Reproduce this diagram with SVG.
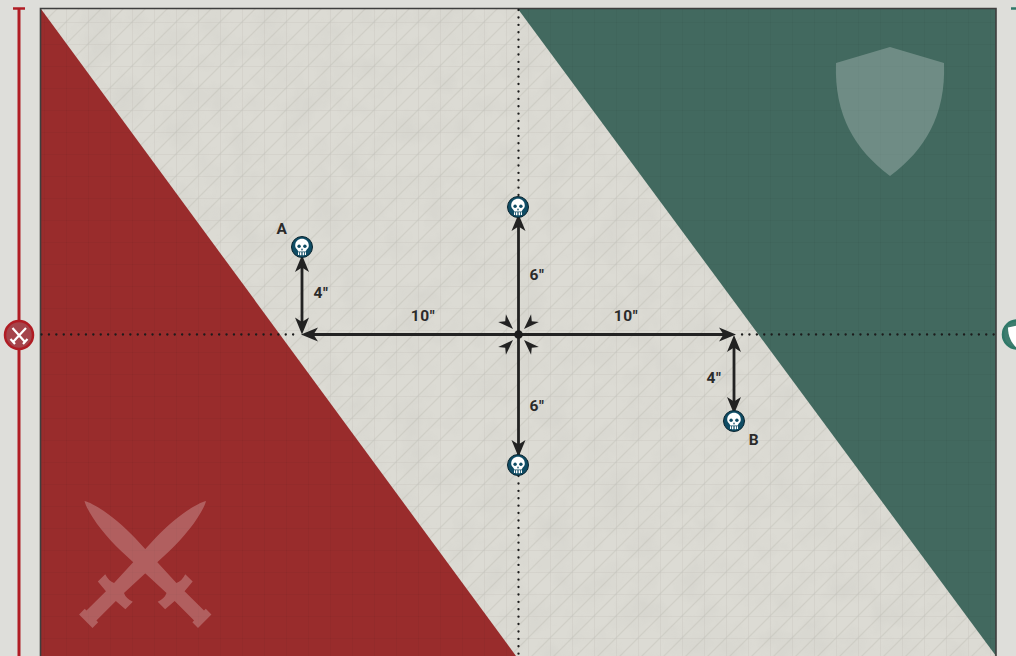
<svg xmlns="http://www.w3.org/2000/svg" xmlns:xlink="http://www.w3.org/1999/xlink" width="1016" height="656" viewBox="0 0 1016 656">
<style>
.lbl{font-family:"Roboto","Liberation Sans",sans-serif;font-weight:700;font-size:15.500px;letter-spacing:.6px;fill:#2b2b2b;text-anchor:middle}
.dim{fill:none;stroke:#222;stroke-width:2.800}
.dot{fill:none;stroke:#1c1c1c;stroke-width:2.300;stroke-linecap:round;stroke-dasharray:.1 7.300}
.head{fill:#222}
</style>
<defs>
<pattern id="hatch" width="22" height="22" patternUnits="userSpaceOnUse">
<path d="M-5.500 5.500L5.500 -5.500M0 22L22 0M16.500 27.500L27.500 16.500" stroke="#bdbcb4" stroke-width="1.300" opacity=".38" fill="none"/>
<path d="M.5 0V22M0 .5H22" stroke="#c4c3bb" stroke-width="1" opacity=".33" fill="none"/>
</pattern>
<pattern id="grid" width="22" height="22" patternUnits="userSpaceOnUse">
<path d="M.5 0V22M0 .5H22" stroke="#000" stroke-width="1" opacity=".03" fill="none"/>
</pattern>
<filter id="mottle" x="0" y="0" width="100%" height="100%">
<feTurbulence type="fractalNoise" baseFrequency=".035" numOctaves="3" seed="4"/>
<feColorMatrix type="matrix" values="0 0 0 0 .45  0 0 0 0 .45  0 0 0 0 .42  1.600 0 0 0 -.62"/>
</filter>
<g id="skull">
<circle r="10.500" fill="#0f4c64" stroke="#0b2530" stroke-width="1"/>
<path d="M-6.800 -1.500C-6.800 -10.500 6.800 -10.500 6.800 -1.500C6.800 1.500 4.800 2 4.200 3.500L3.800 4.500H-3.800L-4.200 3.500C-4.800 2 -6.800 1.500 -6.800 -1.500Z" fill="#fff"/>
<path d="M-4 5.300H-2.800V8H-4ZM-2 5.300H-.6V8.300H-2ZM.6 5.300H2V8.300H.6ZM2.800 5.300H4V8H2.800Z" fill="#fff"/>
<circle cx="-2.900" cy="-.8" r="1.700" fill="#0f4c64"/>
<circle cx="2.900" cy="-.8" r="1.700" fill="#0f4c64"/>
<path d="M0 1L1 3.200H-1Z" fill="#0f4c64"/>
</g>
<path id="ah" d="M0 0L-7 17L0 12.500L7 17Z" class="head"/>
<path id="dart" d="M0 0L-5.500 15.500L0 11L5.500 15.500Z" class="head"/>
<path id="sword" d="M0 0C10 -6 38 -10.500 62 -9.500L123 -7Q125.500 -12 123 -19.500L133.500 -19.500L134.500 -7L162 -7L162 -9.500L170 -9.500L170 9.500L162 9.500L162 7L134.500 7L133.500 19.500L123 19.500Q125.500 12 123 7L62 9.500C38 10.500 10 6 0 0Z" fill="#fff"/>
</defs>

<rect width="1016" height="656" fill="#dededa"/>

<g id="side-left">
<path d="M19 8V322M19 350V656" stroke="#b01c24" stroke-width="3" fill="none"/>
<path d="M13 8.500H25" stroke="#b01c24" stroke-width="2.500"/>
<circle cx="19" cy="335" r="14" fill="#a5444b" stroke="#b01c24" stroke-width="2.500"/>
<path d="M12.500 328L25 342M26 328L13 342M10.500 339L15 344M27.500 339L23 344" stroke="#fff" stroke-width="2.200" fill="none"/>
</g>
<g id="side-right">
<path d="M1011 8.500H1016" stroke="#2f7868" stroke-width="2.500"/>
<circle cx="1017" cy="334.500" r="14" fill="#3e7d6f" stroke="#2f7868" stroke-width="2.500"/>
<path d="M1008 327.500L1017 325.500V348C1012 344 1008 337 1008 327.500Z" fill="#fff"/>
</g>

<g id="board">
<rect x="41" y="9" width="955" height="647" fill="#dcdbd4"/>
<rect x="41" y="9" width="955" height="647" fill="url(#hatch)"/>
<rect x="41" y="9" width="955" height="647" filter="url(#mottle)" opacity=".16"/>
<path d="M41 9L516 656H41Z" fill="#992c2c"/>
<path d="M518 9H996V656Z" fill="#42695f"/>
<path d="M41 9L516 656H41ZM518 9H996V656Z" fill="url(#grid)"/>
<path d="M40.500 656V8.500H996V656" fill="none" stroke="#3e3e3e" stroke-width="1.600"/>
</g>

<g id="sword-icon" opacity=".24">
<use xlink:href="#sword" transform="translate(84.500,501) rotate(45)"/>
<use xlink:href="#sword" transform="translate(206,501) rotate(135)"/>
</g>
<path id="shield-icon" fill="#fff" fill-opacity=".24" d="M890 47L944 63C946 115 925 150 890 176C855 150 834 115 836 63Z"/>

<g id="connectors">
<path class="dot" d="M41.500 334.500H298M742 334.500H996M518.500 10V197M518.500 476V656"/>
<path class="dim" d="M518.500 222V455M312 334.500H726M302 262V324M734 345V408"/>
<use xlink:href="#ah" transform="translate(518.500,214)"/>
<use xlink:href="#ah" transform="translate(518.500,457) rotate(180)"/>
<use xlink:href="#ah" transform="translate(301,334.500) rotate(-90)"/>
<use xlink:href="#ah" transform="translate(736,334.500) rotate(90)"/>
<use xlink:href="#ah" transform="translate(302,255)"/>
<use xlink:href="#ah" transform="translate(302,334.500) rotate(180)"/>
<use xlink:href="#ah" transform="translate(734,335)"/>
<use xlink:href="#ah" transform="translate(734,414) rotate(180)"/>
<use xlink:href="#dart" transform="translate(513,329) rotate(135)"/>
<use xlink:href="#dart" transform="translate(524,329) rotate(-135)"/>
<use xlink:href="#dart" transform="translate(513,340) rotate(45)"/>
<use xlink:href="#dart" transform="translate(524,340) rotate(-45)"/>
<circle cx="518.500" cy="334.500" r="4.300" fill="#1c1c1c"/>
</g>

<g id="node-top"><use xlink:href="#skull" x="518" y="207"/></g>
<g id="node-bottom"><use xlink:href="#skull" x="518" y="465"/></g>
<g id="node-a"><use xlink:href="#skull" x="302" y="247"/><text class="lbl" x="282" y="234">A</text></g>
<g id="node-b"><use xlink:href="#skull" x="734" y="421"/><text class="lbl" x="754" y="445">B</text></g>

<g id="labels">
<text class="lbl" x="321" y="298">4"</text>
<text class="lbl" x="714" y="383">4"</text>
<text class="lbl" x="423" y="321">10"</text>
<text class="lbl" x="626" y="321">10"</text>
<text class="lbl" x="537" y="280">6"</text>
<text class="lbl" x="537" y="411">6"</text>
</g>
</svg>
